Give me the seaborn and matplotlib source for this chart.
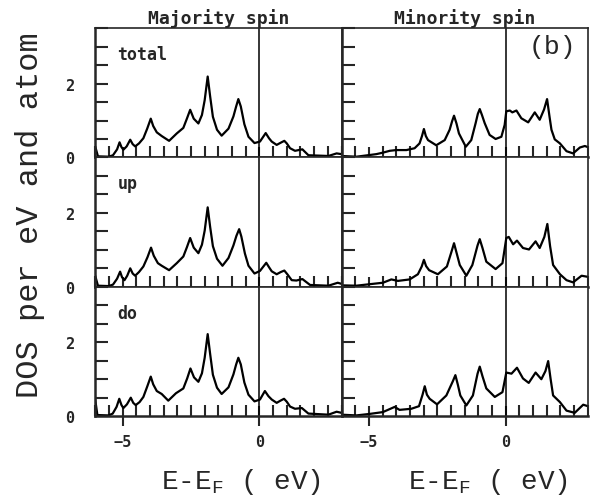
import numpy as np
import seaborn as sns
import matplotlib.pyplot as plt
from matplotlib.ticker import MultipleLocator, FixedLocator

maj_total_e = [-6.00, -5.90, -5.51, -5.35, -5.20, -5.11, -5.04, -4.97, -4.85, -4.72,
               -4.63, -4.54, -4.40, -4.24, -4.10, -3.97, -3.88, -3.75, -3.57, -3.30,
               -3.02, -2.78, -2.65, -2.53, -2.40, -2.23, -2.10, -2.00, -1.89, -1.80,
               -1.70, -1.55, -1.38, -1.13, -0.95, -0.85, -0.77, -0.68, -0.55, -0.40,
               -0.18, 0.02, 0.23, 0.35, 0.45, 0.63, 0.78, 0.91, 1.00, 1.12,
               1.30, 1.57, 1.79, 2.52, 2.82, 3.00]
maj_total_dos = [0.30, 0.03, 0.02, 0.06, 0.22, 0.41, 0.28, 0.21, 0.30, 0.48,
                 0.36, 0.30, 0.38, 0.52, 0.78, 1.05, 0.85, 0.68, 0.58, 0.45,
                 0.65, 0.80, 1.05, 1.29, 1.05, 0.92, 1.15, 1.55, 2.19, 1.65,
                 1.10, 0.75, 0.59, 0.78, 1.11, 1.38, 1.58, 1.38, 0.90, 0.56,
                 0.39, 0.43, 0.66, 0.52, 0.43, 0.34, 0.40, 0.45, 0.38, 0.25,
                 0.18, 0.22, 0.06, 0.04, 0.11, 0.09]

maj_up_e = [-6.00, -5.90, -5.51, -5.35, -5.20, -5.09, -5.02, -4.93, -4.83, -4.72,
            -4.63, -4.54, -4.40, -4.24, -4.09, -3.96, -3.86, -3.71, -3.57, -3.30,
            -3.02, -2.78, -2.65, -2.53, -2.40, -2.23, -2.10, -2.00, -1.89, -1.80,
            -1.70, -1.55, -1.35, -1.13, -0.95, -0.84, -0.74, -0.66, -0.53, -0.40,
            -0.18, 0.02, 0.25, 0.36, 0.45, 0.63, 0.78, 0.91, 1.02, 1.18,
            1.35, 1.57, 1.85, 2.52, 2.86, 3.00]
maj_up_dos = [0.30, 0.03, 0.02, 0.06, 0.22, 0.41, 0.26, 0.18, 0.30, 0.50,
              0.36, 0.30, 0.40, 0.55, 0.80, 1.06, 0.84, 0.64, 0.57, 0.45,
              0.64, 0.82, 1.07, 1.32, 1.06, 0.91, 1.14, 1.52, 2.15, 1.62,
              1.10, 0.76, 0.57, 0.78, 1.12, 1.38, 1.56, 1.36, 0.90, 0.57,
              0.36, 0.43, 0.65, 0.52, 0.42, 0.34, 0.40, 0.44, 0.34, 0.18,
              0.17, 0.21, 0.05, 0.03, 0.11, 0.08]

maj_do_e = [-6.00, -5.92, -5.51, -5.36, -5.22, -5.12, -5.04, -4.97, -4.84, -4.70,
            -4.61, -4.52, -4.38, -4.24, -4.10, -3.97, -3.88, -3.75, -3.57, -3.33,
            -3.05, -2.78, -2.64, -2.52, -2.39, -2.23, -2.10, -2.00, -1.89, -1.80,
            -1.70, -1.55, -1.38, -1.13, -0.95, -0.85, -0.77, -0.68, -0.55, -0.40,
            -0.18, 0.02, 0.20, 0.33, 0.45, 0.63, 0.77, 0.90, 1.00, 1.12,
            1.30, 1.55, 1.79, 2.52, 2.82, 3.00]
maj_do_dos = [0.45, 0.03, 0.02, 0.07, 0.25, 0.47, 0.30, 0.22, 0.32, 0.50,
              0.36, 0.30, 0.38, 0.52, 0.80, 1.07, 0.86, 0.68, 0.60, 0.42,
              0.62, 0.75, 1.02, 1.29, 1.05, 0.93, 1.16, 1.58, 2.22, 1.68,
              1.12, 0.77, 0.60, 0.78, 1.13, 1.40, 1.58, 1.40, 0.91, 0.58,
              0.40, 0.45, 0.68, 0.54, 0.45, 0.36, 0.42, 0.47, 0.39, 0.26,
              0.20, 0.22, 0.07, 0.04, 0.12, 0.09]

min_total_e = [-6.00, -5.46, -5.04, -4.73, -4.49, -4.24, -4.00, -3.63, -3.33, -3.15,
               -3.06, -2.99, -2.92, -2.84, -2.54, -2.23, -2.05, -1.96, -1.89, -1.80,
               -1.71, -1.46, -1.26, -1.10, -1.02, -0.95, -0.87, -0.77, -0.59, -0.37,
               -0.16, -0.04, 0.02, 0.15, 0.24, 0.39, 0.57, 0.82, 1.06, 1.24,
               1.40, 1.51, 1.60, 1.67, 1.79, 1.98, 2.22, 2.46, 2.71, 2.89,
               3.00]
min_total_dos = [0.04, 0.02, 0.06, 0.09, 0.13, 0.18, 0.20, 0.20, 0.25, 0.38,
                 0.58, 0.77, 0.58, 0.47, 0.33, 0.47, 0.75, 0.98, 1.13, 0.92,
                 0.65, 0.29, 0.47, 0.93, 1.18, 1.31, 1.15, 0.93, 0.61, 0.50,
                 0.56, 0.88, 1.25, 1.27, 1.22, 1.27, 1.06, 0.95, 1.22, 1.02,
                 1.30, 1.58, 1.10, 0.75, 0.49, 0.38, 0.17, 0.11, 0.27, 0.31,
                 0.28]

min_up_e = [-6.00, -5.46, -4.98, -4.49, -4.18, -3.94, -3.51, -3.21, -3.07, -2.99,
            -2.91, -2.80, -2.48, -2.15, -1.97, -1.89, -1.79, -1.68, -1.44, -1.22,
            -1.03, -0.95, -0.85, -0.71, -0.37, -0.12, 0.02, 0.11, 0.27, 0.41,
            0.63, 0.85, 1.09, 1.24, 1.41, 1.52, 1.62, 1.73, 1.98, 2.22,
            2.46, 2.77, 3.00]
min_up_dos = [0.04, 0.03, 0.07, 0.11, 0.20, 0.16, 0.20, 0.34, 0.55, 0.73,
              0.56, 0.45, 0.34, 0.55, 0.98, 1.18, 0.90, 0.59, 0.30, 0.59,
              1.12, 1.29, 1.05, 0.68, 0.48, 0.64, 1.32, 1.35, 1.15, 1.25,
              1.05, 1.01, 1.23, 1.05, 1.35, 1.70, 1.10, 0.59, 0.34, 0.18,
              0.12, 0.30, 0.27]

min_do_e = [-6.00, -5.46, -4.98, -4.49, -4.06, -3.88, -3.45, -3.17, -3.04, -2.96,
            -2.88, -2.78, -2.51, -2.17, -1.93, -1.84, -1.75, -1.66, -1.44, -1.20,
            -1.03, -0.95, -0.85, -0.71, -0.40, -0.12, 0.02, 0.21, 0.41, 0.63,
            0.84, 1.09, 1.30, 1.45, 1.55, 1.64, 1.73, 1.98, 2.22, 2.52,
            2.83, 3.00]
min_do_dos = [0.04, 0.02, 0.06, 0.11, 0.25, 0.17, 0.20, 0.27, 0.58, 0.81,
              0.58, 0.47, 0.32, 0.56, 0.95, 1.11, 0.85, 0.56, 0.29, 0.56,
              1.15, 1.34, 1.08, 0.75, 0.52, 0.65, 1.18, 1.15, 1.31, 1.02,
              0.90, 1.18, 1.00, 1.22, 1.49, 1.00, 0.56, 0.38, 0.15, 0.09,
              0.31, 0.27]

row_names = ["total", "up", "do"]
col_titles = ["Majority spin", "Minority spin"]

curves = [
    [(maj_total_e, maj_total_dos), (min_total_e, min_total_dos)],
    [(maj_up_e, maj_up_dos), (min_up_e, min_up_dos)],
    [(maj_do_e, maj_do_dos), (min_do_e, min_do_dos)],
]

sns.set_style("ticks")
plt.rcParams['font.family'] = ['DejaVu Sans']
plt.rcParams['mathtext.fontset'] = 'custom'
plt.rcParams['mathtext.rm'] = 'Liberation Mono'
plt.rcParams['mathtext.it'] = 'Liberation Mono'

fig, axes = plt.subplots(3, 2, figsize=(5.95, 5.02), dpi=100, sharex=True, sharey=True)
fig.subplots_adjust(left=0.16, right=0.988, bottom=0.169, top=0.942, wspace=0, hspace=0)

for i, row in enumerate(curves):
    for j, (e, d) in enumerate(row):
        ax = axes[i, j]
        sns.lineplot(x=e, y=d, ax=ax, color='black', linewidth=1.6,
                     sort=False, estimator=None)
        ax.axvline(0, color='black', lw=1.1)
        ax.set_xlim(-6, 3)
        ax.set_ylim(0, 3.5)
        ax.set_xlabel('')
        ax.set_ylabel('')

        ax.xaxis.set_major_locator(FixedLocator([-5, 0]))
        ax.xaxis.set_minor_locator(MultipleLocator(0.5))
        ax.yaxis.set_major_locator(FixedLocator([0, 2]))
        ax.yaxis.set_minor_locator(MultipleLocator(0.5))
        ax.tick_params(axis='x', which='major', direction='inout', length=14,
                       width=1.5, pad=6)
        ax.tick_params(axis='x', which='minor', direction='in', length=8, width=1.5)
        ax.tick_params(axis='y', which='both', direction='in', length=9,
                       width=1.5, pad=15)
        for lab in ax.get_xticklabels() + ax.get_yticklabels():
            lab.set_family('DejaVu Sans Mono')
            lab.set_weight('bold')
            lab.set_fontsize(11)

        for s in ax.spines.values():
            s.set_linewidth(1.2)
        ax.spines['bottom'].set_linewidth(1.8)
        ax.spines['left'].set_linewidth(1.8)

    axes[i, 0].text(0.09, 0.80, row_names[i], transform=axes[i, 0].transAxes,
                    ha='left', va='center', family='DejaVu Sans Mono',
                    weight='bold', fontsize=12)

axes[0, 1].text(0.855, 0.86, "(b)", transform=axes[0, 1].transAxes,
                ha='center', va='center', family='Liberation Mono', fontsize=19)

for j, title in enumerate(col_titles):
    axes[0, j].set_title(title, family='DejaVu Sans Mono', weight='bold',
                         fontsize=13, pad=4)

fig.text(0.05, 0.572, "DOS per eV and atom", rotation=90, ha='center', va='center',
         family='Liberation Mono', fontsize=23)
fig.text(0.405, 0.04, r"E-E$_{\rm F}$ ( eV)", ha='center', va='center',
         family='Liberation Mono', fontsize=20)
fig.text(0.82, 0.04, r"E-E$_{\rm F}$ ( eV)", ha='center', va='center',
         family='Liberation Mono', fontsize=20)

fig.savefig("out.png", dpi=100)
